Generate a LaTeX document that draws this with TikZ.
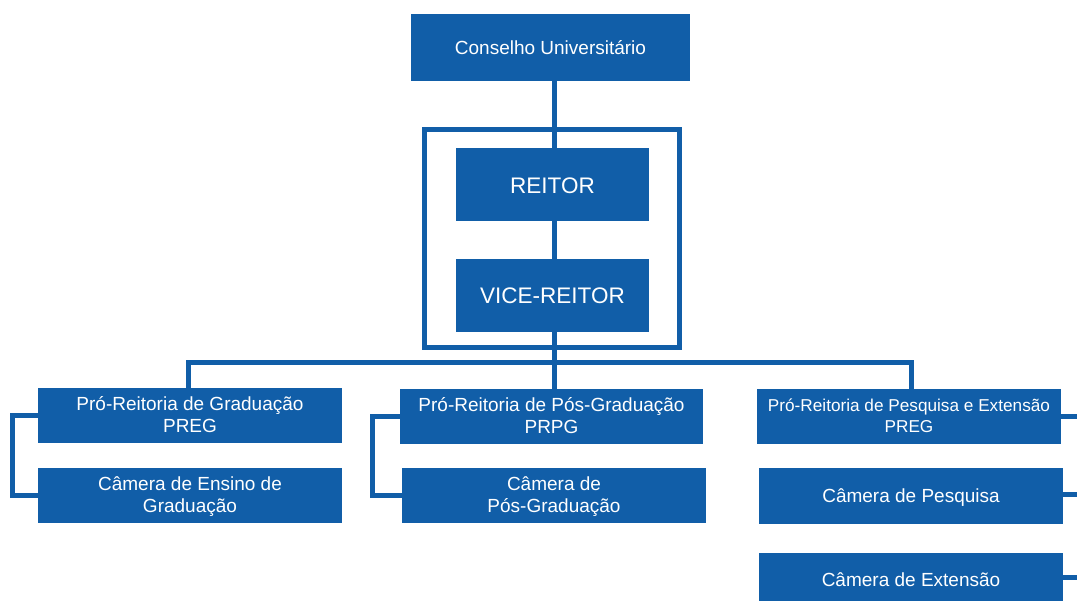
\documentclass[tikz,border=0pt]{standalone}
\usepackage{fontspec}
\setmainfont{Liberation Sans}
\definecolor{orgblue}{RGB}{17,94,168}
\newcommand{\lowertext}[2]{\raisebox{-#1}[\height][\depth]{#2}}
\begin{document}
\begin{tikzpicture}[x=1pt,y=-1pt,
  box/.style={fill=orgblue,draw=none,text=white,inner sep=0pt,align=center,
    font=\fontsize{19}{22.5}\selectfont},
  bigbox/.style={box,font=\fontsize{22.5}{26}\selectfont},
  smallbox/.style={box,font=\fontsize{17.2}{21}\selectfont},
  conn/.style={draw=orgblue,line width=5pt,line join=miter}]
\useasboundingbox (0,0) rectangle (1077,601);
% nodes
\node[box,minimum width=279pt,minimum height=67pt] (cons) at (550.5,47.5) {Conselho Universitário};
\node[bigbox,minimum width=193pt,minimum height=72.5pt] (reitor) at (552.5,184.3) {\lowertext{1pt}{REITOR}};
\node[bigbox,minimum width=193pt,minimum height=73pt] (vice) at (552.5,295.5) {VICE-REITOR};
\node[box,minimum width=304pt,minimum height=55pt] (preg1) at (190,415.5) {\lowertext{1.5pt}{\begin{tabular}{@{}c@{}}Pró-Reitoria de Graduação\\PREG\end{tabular}}};
\node[box,minimum width=304pt,minimum height=55pt] (cam1) at (190,495.5) {\lowertext{1.5pt}{\begin{tabular}{@{}c@{}}Câmera de Ensino de\\Graduação\end{tabular}}};
\node[box,minimum width=303pt,minimum height=55pt] (prpg) at (551.5,416.5) {\lowertext{1.5pt}{\begin{tabular}{@{}c@{}}Pró-Reitoria de Pós-Graduação\\PRPG\end{tabular}}};
\node[box,minimum width=304pt,minimum height=55pt] (cam2) at (554,495.5) {\lowertext{1.5pt}{\begin{tabular}{@{}c@{}}Câmera de\\Pós-Graduação\end{tabular}}};
\node[smallbox,minimum width=304pt,minimum height=55pt] (preg3) at (909,416.5) {\lowertext{1pt}{\begin{tabular}{@{}c@{}}Pró-Reitoria de Pesquisa e Extensão\\PREG\end{tabular}}};
\node[box,minimum width=304pt,minimum height=56pt] (campesq) at (911,496) {\lowertext{2pt}{Câmera de Pesquisa}};
\node[box,minimum width=304pt,minimum height=48pt] (camext) at (911,577) {\lowertext{3pt}{Câmera de Extensão}};
% helper coordinates
\coordinate (spine) at (554.5,0);
\coordinate (bus) at (0,362.5);
\coordinate (b1) at (188,0);
\coordinate (b3) at (911.5,0);
\coordinate (lb1) at (12.5,0);
\coordinate (lb2) at (372,0);
\coordinate (re) at (1077,0);
% outer frame
\draw[conn] (424.5,129.5) rectangle (679.5,348);
% connectors
\draw[conn] (cons.south -| spine) -- (reitor.north -| spine);
\draw[conn] (reitor.south -| spine) -- (vice.north -| spine);
\draw[conn] (vice.south -| spine) -- (prpg.north -| spine);
\draw[conn] (preg1.north -| b1) -- (bus -| b1) -- (bus -| b3) -- (preg3.north -| b3);
\draw[conn] (preg1.west) -| (lb1 |- cam1.west) -- (cam1.west);
\draw[conn] (prpg.west) -| (lb2 |- cam2.west) -- (cam2.west);
\draw[conn] (preg3.east) -- (preg3.east -| re);
\draw[conn] ([yshift=1.5pt]campesq.east) -- ([yshift=1.5pt]campesq.east -| re);
\draw[conn] (camext.east) -- (camext.east -| re);
\end{tikzpicture}
\end{document}
